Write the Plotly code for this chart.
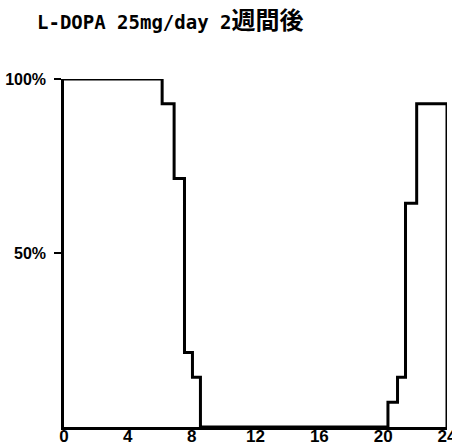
import plotly.graph_objects as go

# Step curve: share of cases (%) against time
hours = [0, 6.15, 6.9, 7.55, 8.05, 8.55, 20.3, 20.9, 21.4, 22.1, 24]
percent = [100, 92.9, 71.4, 21.4, 14.3, 0, 7.1, 14.3, 64.3, 92.9, 0]

x_ticks = [0, 4, 8, 12, 16, 20, 24]
y_ticks = [50, 100]
y_tick_text = ["50%", "100%"]

title_latin = "L-DOPA 25mg/day 2"
title_kanji = "週間後"

fig = go.Figure()
fig.add_trace(go.Scatter(
    x=hours,
    y=percent,
    mode="lines",
    line=dict(shape="hv", color="black", width=3),
    cliponaxis=False,
    hoverinfo="skip",
    showlegend=False,
))

fig.update_layout(
    width=452,
    height=445,
    margin=dict(l=64, r=5, t=79, b=18),
    paper_bgcolor="white",
    plot_bgcolor="white",
    template="none",
    title=dict(
        text=(title_latin
              + "<span style='font-family:Noto Sans CJK JP;font-size:24px'>"
              + title_kanji + "</span>"),
        font=dict(family="DejaVu Sans Mono, Noto Sans CJK JP", size=19,
                  color="black", weight="bold"),
        xref="container", yref="container",
        x=37 / 452, xanchor="left",
        y=1 - 22 / 445, yanchor="middle",
    ),
)

fig.update_xaxes(
    range=[0, 24],
    tickvals=x_ticks,
    ticktext=[str(v) for v in x_ticks],
    showline=True, linecolor="black", linewidth=2.5,
    showgrid=False, zeroline=False,
    ticks="", automargin=False,
    ticklabelstandoff=-8,
    ticklabeloverflow="allow",
    tickfont=dict(family="Liberation Sans Narrow, Liberation Sans, Arial",
                  size=17, color="black", weight="bold"),
)

fig.update_yaxes(
    range=[0, 100],
    tickvals=y_ticks,
    ticktext=y_tick_text,
    showline=True, linecolor="black", linewidth=2.5,
    showgrid=False, zeroline=False,
    ticks="outside", ticklen=7, tickwidth=2, tickcolor="black",
    automargin=False,
    ticklabelstandoff=5,
    tickfont=dict(family="Liberation Sans, Arial", size=16,
                  color="black", weight="bold"),
)

fig.write_html("out.html")
